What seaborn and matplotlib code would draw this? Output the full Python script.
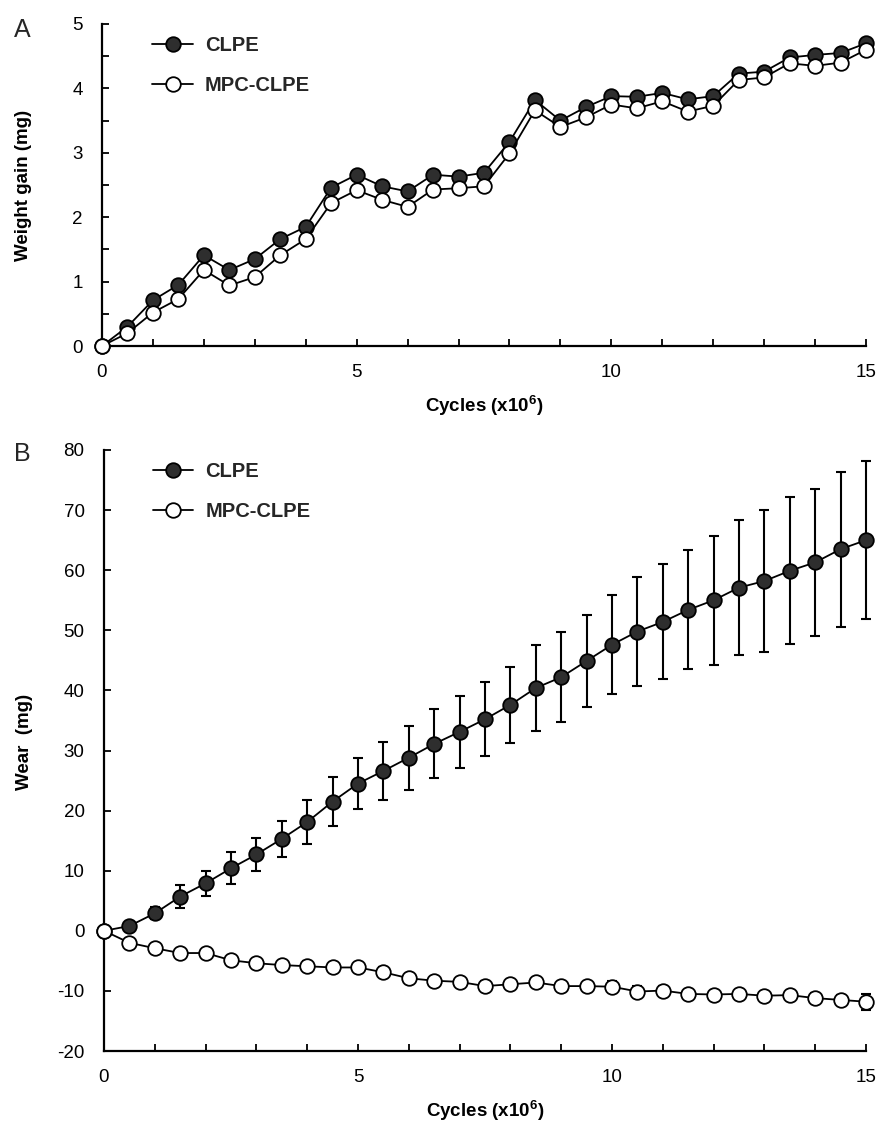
import numpy as np
import pandas as pd
import matplotlib
matplotlib.use("Agg")
import matplotlib.pyplot as plt
import seaborn as sns
from matplotlib.ticker import FixedLocator, FuncFormatter

cycles = [0, 0.5, 1, 1.5, 2, 2.5, 3, 3.5, 4, 4.5, 5, 5.5, 6, 6.5, 7, 7.5,
          8, 8.5, 9, 9.5, 10, 10.5, 11, 11.5, 12, 12.5, 13, 13.5, 14, 14.5, 15]

gain_clpe = [0, 0.30, 0.71, 0.95, 1.41, 1.18, 1.35, 1.66, 1.85, 2.46, 2.66, 2.48, 2.40,
             2.66, 2.63, 2.69, 3.17, 3.82, 3.50, 3.71, 3.88, 3.87, 3.93, 3.83, 3.88,
             4.23, 4.26, 4.48, 4.52, 4.55, 4.70]
gain_mpc = [0, 0.20, 0.52, 0.73, 1.18, 0.94, 1.07, 1.41, 1.66, 2.22, 2.42, 2.27, 2.16,
            2.43, 2.45, 2.48, 2.99, 3.66, 3.40, 3.55, 3.75, 3.69, 3.80, 3.64, 3.73,
            4.13, 4.17, 4.39, 4.35, 4.40, 4.60]

wear_clpe = [0, 0.8, 2.9, 5.7, 7.9, 10.4, 12.7, 15.3, 18.1, 21.5, 24.5, 26.6, 28.8,
             31.1, 33.1, 35.2, 37.6, 40.4, 42.2, 44.9, 47.6, 49.8, 51.4, 53.4, 55.0,
             57.1, 58.2, 59.9, 61.3, 63.5, 65.0]
wear_clpe_err = [0, 0.5, 1.0, 1.9, 2.05, 2.65, 2.8, 3.05, 3.6, 4.05, 4.3, 4.8, 5.3,
                 5.75, 5.95, 6.15, 6.35, 7.1, 7.45, 7.6, 8.25, 9.1, 9.55, 9.9, 10.75,
                 11.25, 11.85, 12.25, 12.25, 12.9, 13.15]
wear_mpc = [0, -2.0, -2.9, -3.7, -3.7, -4.9, -5.4, -5.7, -5.9, -6.1, -6.1, -6.9, -7.9,
            -8.3, -8.5, -9.2, -8.9, -8.6, -9.2, -9.2, -9.3, -10.1, -9.95, -10.5, -10.6,
            -10.5, -10.8, -10.7, -11.2, -11.5, -11.8]
wear_mpc_err = [0, 0.3, 0.4, 0.4, 0.4, 0.5, 0.5, 0.5, 0.8, 0.8, 0.6, 0.8, 0.7,
                0.5, 0.6, 0.8, 0.6, 0.5, 0.7, 0.6, 0.9, 0.9, 0.8, 0.5, 0.6,
                0.7, 0.6, 0.7, 0.8, 0.9, 1.3]

labels = ["CLPE", "MPC-CLPE"]
xticks_labeled = [0, 5, 10, 15]

sns.set_theme(style="ticks")
plt.rcParams["font.family"] = ["Liberation Sans", "DejaVu Sans"]

W, H = 879, 1126
fig = plt.figure(figsize=(W / 100, H / 100), dpi=100)

def px_axes(left, top, right, bottom):
    return fig.add_axes([left / W, 1 - bottom / H, (right - left) / W, (bottom - top) / H])

axA = px_axes(102, 24, 866, 346)
axB = px_axes(104, 450, 866, 1051)

df_gain = pd.DataFrame({"x": cycles, "clpe": gain_clpe, "mpc": gain_mpc})
df_wear = pd.DataFrame({"x": cycles, "clpe": wear_clpe, "mpc": wear_mpc,
                        "clpe_err": wear_clpe_err, "mpc_err": wear_mpc_err})

ms = 10.5
lw = 1.3
filled = dict(marker="o", markersize=ms, markerfacecolor="#2e2e2e", markeredgecolor="black",
              markeredgewidth=1.3, color="black", linewidth=lw, clip_on=False)
hollow = dict(marker="o", markersize=ms, markerfacecolor="white", markeredgecolor="black",
              markeredgewidth=1.3, color="black", linewidth=lw, clip_on=False)

# Panel A
sns.lineplot(data=df_gain, x="x", y="clpe", ax=axA, label=labels[0], zorder=3, **filled)
sns.lineplot(data=df_gain, x="x", y="mpc", ax=axA, label=labels[1], zorder=4, **hollow)

# Panel B
axB.errorbar(df_wear["x"], df_wear["clpe"], yerr=df_wear["clpe_err"], fmt="none",
             ecolor="black", elinewidth=1.5, capsize=3.5, capthick=1.5, zorder=2, clip_on=False)
axB.errorbar(df_wear["x"], df_wear["mpc"], yerr=df_wear["mpc_err"], fmt="none",
             ecolor="black", elinewidth=1.5, capsize=3.5, capthick=1.5, zorder=2, clip_on=False)
sns.lineplot(data=df_wear, x="x", y="clpe", ax=axB, label=labels[0], zorder=3, **filled)
sns.lineplot(data=df_wear, x="x", y="mpc", ax=axB, label=labels[1], zorder=4, **hollow)

xfmt = FuncFormatter(lambda v, p: f"{int(round(v))}" if int(round(v)) in xticks_labeled else "")

for ax, ylim, yt, ylab in [
    (axA, (0, 5), np.arange(0, 5.01, 0.5), "Weight gain (mg)"),
    (axB, (-20, 80), np.arange(-20, 80.1, 10), "Wear  (mg)"),
]:
    ax.set_xlim(0, 15)
    ax.set_ylim(*ylim)
    ax.xaxis.set_major_locator(FixedLocator(np.arange(0, 15.1, 1)))
    ax.xaxis.set_major_formatter(xfmt)
    ax.yaxis.set_major_locator(FixedLocator(yt))
    if ax is axA:
        ax.yaxis.set_major_formatter(FuncFormatter(
            lambda v, p: f"{int(round(v))}" if abs(v - round(v)) < 1e-6 else ""))
    else:
        ax.yaxis.set_major_formatter(FuncFormatter(lambda v, p: f"{int(round(v))}"))
    for s in ["top", "right"]:
        ax.spines[s].set_visible(False)
    for s in ["left", "bottom"]:
        ax.spines[s].set_linewidth(1.6)
        ax.spines[s].set_color("black")
    ax.tick_params(axis="both", direction="in", length=5, width=1.3, colors="black",
                   labelsize=13.5, labelcolor="black")
    ax.tick_params(axis="x", pad=13)
    ax.tick_params(axis="y", pad=14)
    ax.set_xlabel("Cycles (x10$^{\\mathregular{6}}$)", fontsize=13.5, fontweight="bold",
                  labelpad=9, color="black")
    ax.set_ylabel(ylab, fontsize=13.5, fontweight="bold", color="black")
    ax.grid(False)
    ax.set_facecolor("white")

axA.yaxis.set_label_coords(-0.092, 0.5)
axB.yaxis.set_label_coords(-0.093, 0.515)

axA.text(-0.105, 0.98, "A", transform=axA.transAxes, fontsize=18, ha="center", va="center")
axB.text(-0.107, 0.993, "B", transform=axB.transAxes, fontsize=18, ha="center", va="center")

legA = axA.legend(loc="upper left", bbox_to_anchor=(0.066, 0.963), frameon=False,
                  handlelength=2.0, handletextpad=0.6, labelspacing=1.05, borderpad=0,
                  borderaxespad=0, prop={"weight": "bold", "size": 14.5})
legB = axB.legend(loc="upper left", bbox_to_anchor=(0.064, 0.98), frameon=False,
                  handlelength=2.0, handletextpad=0.6, labelspacing=1.05, borderpad=0,
                  borderaxespad=0, prop={"weight": "bold", "size": 14.5})

fig.savefig("out.png", dpi=100, facecolor="white")
